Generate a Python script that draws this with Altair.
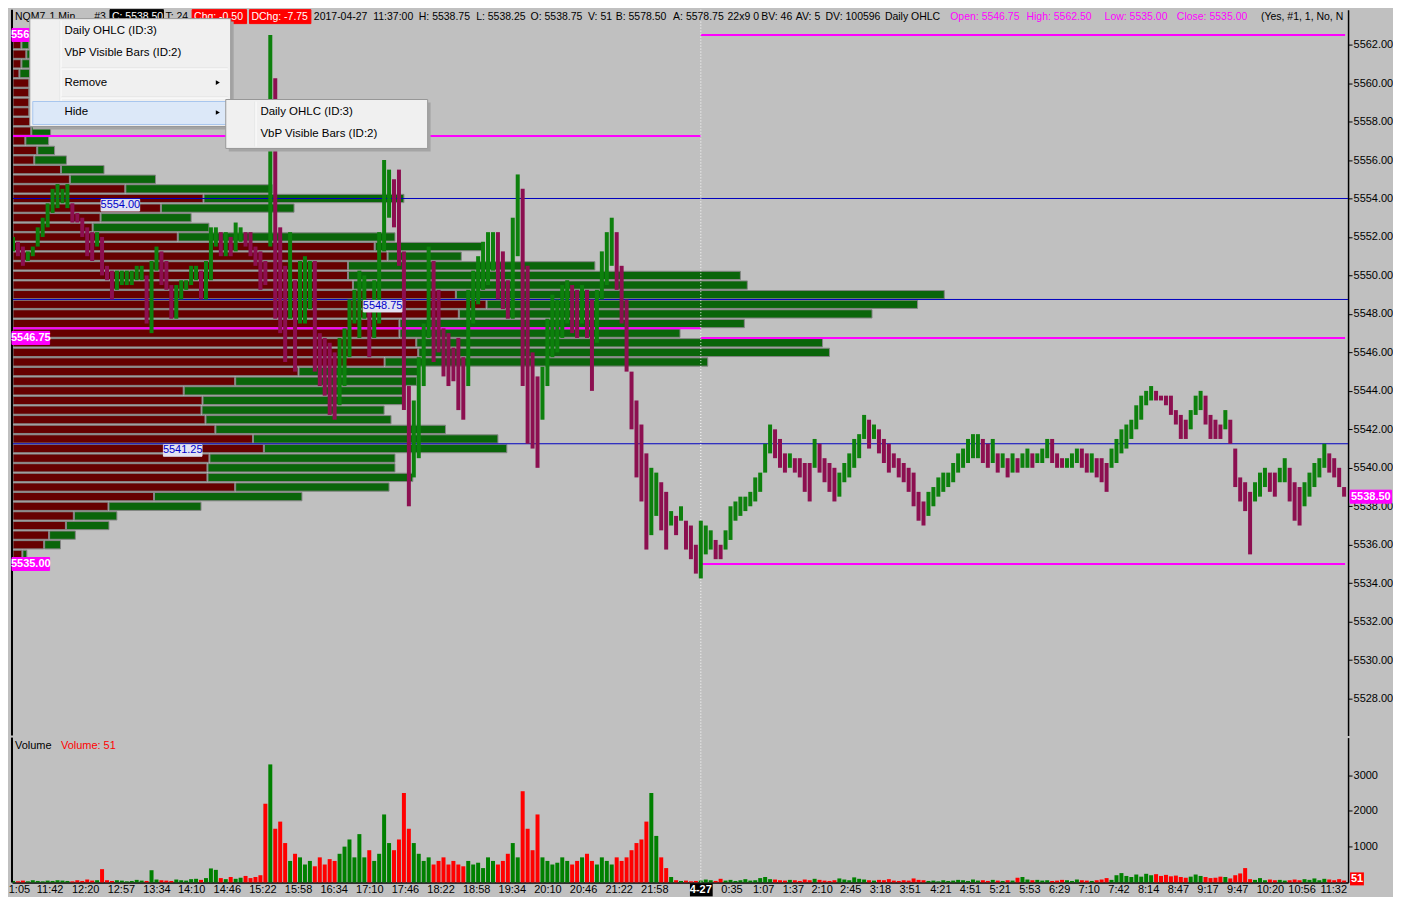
import altair as alt
import pandas as pd

# ------------------------------------------------------------------ data
# bar position on the time axis (one slot = 5 one-minute bars), 4-26 session then 4-27
BAR_X = list(range(5, 1351, 5))

HI = [
    5552.0, 5551.75, 5551.5, 5551.25, 5551.5, 5552.5, 5553.0, 5553.75, 5554.5, 5554.75,
    5554.5, 5554.75, 5553.75, 5553.25, 5553.0, 5552.5, 5552.25, 5552.25, 5552.0, 5550.5,
    5550.25, 5550.25, 5550.25, 5550.25, 5550.25, 5550.5, 5550.5, 5550.0, 5550.75, 5551.5,
    5551.25, 5550.75, 5549.5, 5549.5, 5549.75, 5549.75, 5550.5, 5550.5, 5550.25, 5550.75,
    5552.5, 5552.5, 5552.25, 5552.25, 5552.0, 5552.75, 5552.5, 5552.25, 5552.25, 5551.5,
    5551.25, 5550.75, 5562.5, 5560.25, 5552.5, 5550.5, 5552.25, 5549.75, 5550.75, 5551.0,
    5550.75, 5550.75, 5547.0, 5546.75, 5546.5, 5546.0, 5546.75, 5547.25, 5548.75, 5549.25,
    5550.25, 5550.0, 5548.75, 5549.75, 5552.25, 5556.0, 5555.5, 5555.0, 5555.5, 5551.25,
    5544.25, 5543.5, 5545.75, 5547.5, 5551.5, 5550.75, 5549.25, 5547.25, 5547.0, 5546.25,
    5546.75, 5545.75, 5549.25, 5550.25, 5551.0, 5551.75, 5552.25, 5552.25, 5552.25, 5551.25,
    5549.75, 5553.0, 5555.25, 5554.5, 5550.5, 5546.0, 5544.75, 5545.25, 5547.75, 5549.0,
    5548.75, 5549.5, 5549.75, 5549.5, 5549.25, 5549.5, 5549.25, 5548.75, 5549.25, 5551.25,
    5552.25, 5553.0, 5552.25, 5550.5, 5548.75, 5545.0, 5543.5, 5542.25, 5540.75, 5540.0,
    5539.75, 5539.25, 5538.75, 5537.75, 5537.5, 5538.0, 5537.25, 5537.0, 5536.0, 5537.25,
    5537.0, 5536.75, 5536.25, 5536.0, 5536.75, 5538.0, 5538.25, 5538.5, 5538.5, 5538.75,
    5539.5, 5539.75, 5541.25, 5542.25, 5542.0, 5541.5, 5540.75, 5540.75, 5540.5, 5540.5,
    5540.25, 5540.25, 5541.5, 5541.25, 5540.5, 5540.25, 5540.0, 5539.75, 5540.25, 5540.75,
    5541.5, 5541.75, 5542.75, 5542.5, 5542.25, 5542.0, 5541.5, 5541.25, 5540.75, 5540.5,
    5540.25, 5540.0, 5539.75, 5538.75, 5538.25, 5538.75, 5539.0, 5539.5, 5539.75, 5539.75,
    5540.25, 5540.75, 5541.0, 5541.5, 5541.75, 5541.75, 5541.5, 5541.25, 5541.5, 5540.75,
    5540.75, 5540.5, 5540.75, 5540.5, 5540.75, 5541.0, 5540.75, 5540.75, 5541.0, 5541.5,
    5541.5, 5540.75, 5540.5, 5540.5, 5540.75, 5541.0, 5541.0, 5540.75, 5540.75, 5540.5,
    5540.5, 5540.25, 5541.0, 5541.5, 5542.0, 5542.25, 5542.5, 5543.25, 5543.75, 5544.0,
    5544.25, 5544.0, 5543.75, 5543.75, 5543.75, 5543.0, 5542.75, 5542.5, 5543.0, 5543.75,
    5544.0, 5543.75, 5542.75, 5542.5, 5542.25, 5543.0, 5542.5, 5541.0, 5539.5, 5539.25,
    5538.75, 5539.25, 5539.75, 5540.0, 5539.75, 5539.75, 5540.0, 5540.5, 5540.0, 5539.25,
    5539.0, 5539.25, 5539.75, 5540.25, 5540.5, 5541.25, 5540.75, 5540.5, 5540.0, 5539.0,
]
LO = [
    5551.25, 5551.0, 5550.5, 5550.75, 5551.0, 5551.5, 5552.0, 5552.5, 5553.25, 5553.5,
    5553.75, 5553.5, 5552.75, 5552.75, 5552.0, 5551.0, 5550.75, 5551.5, 5550.0, 5549.75,
    5548.75, 5549.25, 5549.5, 5549.5, 5549.5, 5549.75, 5549.75, 5547.5, 5547.0, 5550.25,
    5549.5, 5549.25, 5547.75, 5547.75, 5548.75, 5549.25, 5549.5, 5549.75, 5548.75, 5548.75,
    5549.75, 5551.5, 5551.0, 5551.0, 5551.0, 5551.25, 5551.75, 5551.5, 5551.0, 5550.5,
    5549.25, 5549.5, 5551.5, 5547.75, 5547.0, 5545.5, 5547.75, 5545.0, 5547.5, 5547.5,
    5548.25, 5545.0, 5544.25, 5543.75, 5542.75, 5542.5, 5543.25, 5544.25, 5545.75, 5547.5,
    5546.75, 5547.75, 5545.75, 5546.75, 5547.5, 5551.25, 5553.0, 5552.5, 5550.5, 5543.0,
    5538.0, 5539.5, 5540.5, 5544.25, 5546.75, 5545.5, 5546.0, 5544.75, 5544.25, 5544.5,
    5543.0, 5542.5, 5544.25, 5547.5, 5548.5, 5549.25, 5549.5, 5550.25, 5548.75, 5548.25,
    5547.75, 5547.75, 5551.0, 5544.25, 5541.25, 5541.0, 5540.0, 5542.5, 5544.25, 5545.75,
    5546.0, 5546.75, 5547.5, 5547.0, 5546.75, 5547.5, 5546.75, 5544.0, 5546.5, 5548.75,
    5549.5, 5550.5, 5549.25, 5547.5, 5545.0, 5542.0, 5539.5, 5538.25, 5535.75, 5536.5,
    5537.5, 5536.75, 5535.75, 5537.0, 5536.5, 5537.25, 5535.75, 5535.25, 5534.5, 5534.25,
    5535.5, 5535.75, 5535.25, 5535.25, 5535.75, 5536.25, 5537.25, 5537.5, 5537.75, 5538.0,
    5538.25, 5538.75, 5539.75, 5540.75, 5540.5, 5540.0, 5539.75, 5540.0, 5539.75, 5539.5,
    5538.75, 5538.25, 5540.0, 5539.75, 5539.25, 5538.75, 5538.25, 5538.5, 5539.25, 5539.5,
    5540.0, 5540.5, 5541.5, 5541.0, 5541.5, 5540.75, 5540.25, 5539.75, 5540.0, 5539.5,
    5539.25, 5538.75, 5538.0, 5537.25, 5537.0, 5537.5, 5538.0, 5538.5, 5538.75, 5539.0,
    5539.25, 5539.75, 5540.0, 5540.25, 5540.5, 5540.5, 5540.25, 5540.0, 5540.25, 5539.75,
    5540.0, 5539.5, 5539.75, 5539.75, 5540.0, 5540.0, 5540.0, 5540.25, 5540.25, 5540.5,
    5540.25, 5540.0, 5540.0, 5540.0, 5540.0, 5540.25, 5540.0, 5539.75, 5539.75, 5539.5,
    5539.25, 5538.75, 5540.0, 5540.25, 5540.75, 5541.0, 5541.5, 5542.0, 5542.5, 5543.25,
    5543.5, 5543.5, 5543.5, 5543.25, 5542.75, 5542.25, 5541.5, 5541.5, 5542.0, 5542.75,
    5543.0, 5542.25, 5541.5, 5541.5, 5541.5, 5542.0, 5541.25, 5539.0, 5538.25, 5537.75,
    5535.5, 5538.25, 5538.5, 5539.0, 5538.75, 5538.5, 5539.25, 5539.25, 5538.25, 5537.25,
    5537.0, 5538.0, 5538.5, 5539.0, 5539.5, 5540.0, 5539.75, 5539.5, 5539.0, 5538.5,
]
VOL = [
    40, 30, 50, 30, 60, 40, 30, 50, 40, 60,
    50, 40, 30, 60, 40, 80, 50, 60, 370, 60,
    40, 60, 50, 30, 40, 70, 50, 40, 340, 80,
    60, 50, 40, 80, 60, 50, 90, 100, 70, 120,
    390, 350, 120, 90, 150, 100, 130, 180, 120, 150,
    200, 2200, 3300, 1500, 1700, 1100, 600, 800, 700, 500,
    600, 450, 700, 500, 650, 600, 800, 1000, 1200, 700,
    1350, 700, 900, 600, 800, 1900, 1100, 900, 1200, 2500,
    1500, 1100, 800, 600, 700, 500, 600, 700, 500, 600,
    500, 450, 600, 500, 550, 400, 700, 600, 500, 600,
    800, 1100, 700, 2550, 1500, 900, 1900, 700, 600, 500,
    550, 700, 600, 500, 600, 700, 800, 600, 500, 700,
    600, 500, 700, 600, 700, 900, 1100, 1200, 1700, 2500,
    1300, 700, 400, 150, 60, 40, 50, 30, 40, 50,
    80, 60, 40, 100, 50, 70, 40, 60, 90, 50,
    60, 120, 150, 90, 80, 60, 50, 70, 60, 40,
    80, 60, 100, 70, 50, 40, 60, 110, 80, 60,
    140, 100, 80, 60, 50, 70, 60, 90, 50, 40,
    60, 50, 110, 70, 60, 40, 50, 30, 60, 40,
    50, 70, 60, 40, 80, 50, 60, 40, 70, 50,
    40, 60, 50, 130, 150, 80, 60, 70, 50, 60,
    40, 50, 70, 60, 40, 80, 60, 50, 40, 60,
    80, 120, 70, 200, 260, 180, 150, 220, 160, 240,
    200, 230, 180, 210, 170, 190, 150, 130, 160, 220,
    180, 150, 120, 130, 160, 150, 110, 200, 250, 400,
    90, 70, 120, 60, 80, 60, 70, 50, 60, 80,
    60, 90, 70, 110, 60, 100, 80, 60, 90, 51,
]

# volume-by-price profile (rows of 0.5 pt): down volume end, total end (in bar-position units)
PROF_PRICE = [
    5562.5, 5562.0, 5561.5, 5561.0, 5560.5, 5560.0, 5559.5, 5559.0, 5558.5, 5558.0,
    5557.5, 5557.0, 5556.5, 5556.0, 5555.5, 5555.0, 5554.5, 5554.0, 5553.5, 5553.0,
    5552.5, 5552.0, 5551.5, 5551.0, 5550.5, 5550.0, 5549.5, 5549.0, 5548.5, 5548.0,
    5547.5, 5547.0, 5546.5, 5546.0, 5545.5, 5545.0, 5544.5, 5544.0, 5543.5, 5543.0,
    5542.5, 5542.0, 5541.5, 5541.0, 5540.5, 5540.0, 5539.5, 5539.0, 5538.5, 5538.0,
    5537.5, 5537.0, 5536.5, 5536.0, 5535.5,
]
PROF_RED_END = [
    10, 13, 18, 13, 11, 21, 21, 21, 21, 23,
    23, 17, 29, 26, 53, 62, 118, 197, 154, 93,
    85, 171, 370, 383, 343, 343, 348, 452, 483, 455,
    395, 395, 412, 414, 380, 293, 229, 177, 196, 195,
    199, 209, 247, 258, 203, 201, 201, 229, 147, 101,
    66, 58, 41, 36, 14,
]
PROF_GREEN_END = [
    14, 21, 24, 22, 22, 30, 32, 34, 40, 79,
    43, 41, 47, 59, 97, 149, 267, 400, 289, 185,
    203, 391, 481, 458, 593, 740, 747, 946, 919, 873,
    744, 679, 823, 830, 707, 414, 413, 400, 400, 380,
    387, 442, 495, 504, 391, 391, 409, 385, 297, 195,
    110, 102, 68, 53, 19,
]

DAILY_PREV = [5557.25, 5547.25]           # drawn over the 4-26 session
DAILY_CUR = [5562.50, 5546.75, 5535.00]   # drawn over the 4-27 session
VBP_LINES = [5554.00, 5548.75, 5541.25]
VBP_LABEL_X = [94, 359, 157]
LAST_PRICE = 5538.50
LAST_VOLUME = 51

PRICE_TICKS = [5528, 5530, 5532, 5534, 5536, 5538, 5540, 5542, 5544,
               5546, 5548, 5550, 5552, 5554, 5556, 5558, 5560, 5562]
VOL_TICKS = [1000, 2000, 3000]
TIME_POS = [11, 42, 78, 114, 150, 185, 221, 257, 293, 329, 365, 401, 437, 473,
            509, 545, 581, 617, 653, 731, 763, 793, 822, 851, 881, 911, 942,
            972, 1002, 1032, 1062, 1092, 1122, 1152, 1182, 1212, 1242, 1275, 1307, 1339]
TIME_LAB = ["1:05", "11:42", "12:20", "12:57", "13:34", "14:10", "14:46", "15:22",
            "15:58", "16:34", "17:10", "17:46", "18:22", "18:58", "19:34", "20:10",
            "20:46", "21:22", "21:58", "0:35", "1:07", "1:37", "2:10", "2:45", "3:18",
            "3:51", "4:21", "4:51", "5:21", "5:53", "6:29", "7:10", "7:42", "8:14",
            "8:47", "9:17", "9:47", "10:20", "10:56", "11:32"]
DAY_POS = 700
DAY_LABEL = "4-27"

assert len(HI) == len(LO) == len(VOL) == len(BAR_X)
assert len(PROF_PRICE) == len(PROF_RED_END) == len(PROF_GREEN_END)

# ------------------------------------------------------------------ layout / style
W, HP, HV = 1338, 727, 145
FONT = "Liberation Sans"
BG = "#c0c0c0"
UP, DN = "#0d800d", "#8c0f50"
VUP, VDN = "#008000", "#ff0000"
MAG = "#ff00ff"
PX_PER_PT = 19.265


def P(ry):
    """vertical position on the screen -> price units (for overlays)"""
    return 5562.0 - (ry - 43.0) / PX_PER_PT


XS = alt.Scale(domain=[4, 1354], nice=False, zero=False)
YS = alt.Scale(domain=[P(735), P(8)], nice=False, zero=False)
VS = alt.Scale(domain=[0, 4050], nice=False, zero=False)

YAX = alt.Axis(orient="right", values=PRICE_TICKS, format=".2f", title=None, grid=False,
               tickSize=4, tickColor="black", domainColor="black", domainWidth=1.5,
               labelColor="black", labelFontSize=11, labelPadding=1, labelFont=FONT)
VAX = alt.Axis(orient="right", values=VOL_TICKS, format="d", title=None, grid=False,
               tickSize=4, tickColor="black", domainColor="black", domainWidth=1.5,
               labelColor="black", labelFontSize=11, labelPadding=1, labelFont=FONT)
lab_arr = "[" + ",".join("'" + s + "'" for s in TIME_LAB) + "]"
pos_arr = "[" + ",".join(str(p) for p in TIME_POS) + "]"
XAX = alt.Axis(orient="bottom", values=TIME_POS, title=None, grid=False, ticks=False,
               labelExpr=f"{lab_arr}[indexof({pos_arr}, datum.value)]",
               domainColor="black", domainWidth=1.5, labelColor="black", labelFontSize=11,
               labelPadding=1, labelOverlap=False, labelFlush=False, labelFont=FONT)


def PXe(f):
    return alt.X(f, type="quantitative", scale=XS, axis=None)


def PYe(f):
    return alt.Y(f, type="quantitative", scale=YS, axis=YAX)


def VXe(f):
    return alt.X(f, type="quantitative", scale=XS, axis=XAX)


def VYe(f):
    return alt.Y(f, type="quantitative", scale=VS, axis=VAX)


# ------------------------------------------------------------------ tables
bars = pd.DataFrame({"bar": BAR_X, "hi": HI, "lo": LO, "vol": VOL})
mid = (bars["hi"] + bars["lo"]) / 2
up = [i == 0 or mid[i] >= mid[i - 1] for i in range(len(bars))]
bars["pcol"] = [UP if u else DN for u in up]
bars["vcol"] = [VUP if u else VDN for u in up]
bars["zero"] = 0

prof = pd.DataFrame({"price": PROF_PRICE, "red": PROF_RED_END, "green": PROF_GREEN_END})
prof["x0"] = 5
prof["g0"] = prof["red"] + 1
prof["top"] = prof["price"] + 0.215
prof["bot"] = prof["price"] - 0.215

daily = pd.DataFrame({
    "x": [4] * len(DAILY_PREV) + [DAY_POS] * len(DAILY_CUR),
    "x2": [DAY_POS] * len(DAILY_PREV) + [1351] * len(DAILY_CUR),
    "y": DAILY_PREV + DAILY_CUR,
})
vbp = pd.DataFrame({"x": 4, "x2": 1354, "y": VBP_LINES})

half = 6.5 / PX_PER_PT
lab_rects, lab_txt, lab_bold = [], [], []
for p, lx in zip(VBP_LINES, VBP_LABEL_X):
    lab_rects.append(dict(x=lx, x2=lx + 39, y=p - 0.05, y2=p - 12.5 / PX_PER_PT,
                          fill="#e2e2f2", stroke="#e2e2f2"))
    lab_txt.append(dict(x=lx + 19.5, y=p - 6.5 / PX_PER_PT, text=f"{p:.2f}", color="#0000c8"))
for p in DAILY_CUR:
    lab_rects.append(dict(x=4, x2=42, y=p + half, y2=p - half, fill=MAG, stroke=MAG))
    lab_bold.append(dict(x=23, y=p, text=f"{p:.2f}", color="white"))
lab_rects.append(dict(x=1356, x2=1398, y=LAST_PRICE + half, y2=LAST_PRICE - half,
                      fill=MAG, stroke=MAG))
lab_bold.append(dict(x=1377, y=LAST_PRICE, text=f"{LAST_PRICE:.2f}", color="white"))

# header line (screen x positions, shifted a little down to stay inside the page)
DY = 5
hdr_rects = pd.DataFrame([
    dict(x=103, x2=157, y=P(3 + DY), y2=P(17 + DY), fill="#000000", stroke="#000000"),
    dict(x=186, x2=241, y=P(3 + DY), y2=P(17 + DY), fill="#ff0000", stroke="#ff0000"),
    dict(x=244, x2=306, y=P(3 + DY), y2=P(17 + DY), fill="#ff0000", stroke="#ff0000"),
])
hy = P(10 + DY)
hdr_items = [
    (7, "NQM7", "black"), (42, "1 Min", "black"), (87, "#3", "black"),
    (105, "C: 5538.50", "white"), (159, "T: 24", "black"),
    (188, "Chg: -0.50", "white"), (246, "DChg: -7.75", "white"),
    (309, "2017-04-27", "black"), (369, "11:37:00", "black"),
    (415, "H: 5538.75", "black"), (473, "L: 5538.25", "black"),
    (528, "O: 5538.75", "black"), (586, "V: 51", "black"),
    (614, "B: 5578.50", "black"), (672, "A: 5578.75", "black"),
    (727, "22x9 0", "black"), (761, "BV: 46", "black"), (796, "AV: 5", "black"),
    (826, "DV: 100596", "black"), (886, "Daily OHLC", "black"),
    (952, "Open: 5546.75", MAG), (1029, "High: 5562.50", MAG),
    (1108, "Low: 5535.00", MAG), (1181, "Close: 5535.00", MAG),
    (1266, "(Yes, #1, 1, No, N", "black"),
]
hdr_txt = pd.DataFrame([dict(x=x, y=hy, text=t, color=c) for x, t, c in hdr_items])

# context menu overlay (screen coordinates)
menu_boxes = [
    (25, 228, 15, 123, "#a4a4a4", "transparent"),
    (22, 225, 12, 120, "#f0f0f0", "#979797"),
    (52, 53, 14, 118, "#e2e3e3", "transparent"),
    (53, 54, 14, 118, "#ffffff", "transparent"),
    (54, 222, 61, 62, "#e0e0e0", "transparent"),
    (54, 222, 62, 63, "#ffffff", "transparent"),
    (54, 222, 90, 91, "#e0e0e0", "transparent"),
    (54, 222, 91, 92, "#ffffff", "transparent"),
    (25, 221, 95, 118, "#dce8f8", "#a8c6ee"),
    (223, 427, 96, 145, "#a4a4a4", "transparent"),
    (220, 424, 93, 142, "#f0f0f0", "#979797"),
    (249, 250, 95, 140, "#e2e3e3", "transparent"),
    (250, 251, 95, 140, "#ffffff", "transparent"),
]
menu_rects = pd.DataFrame([dict(x=a, x2=b, y=P(c + DY), y2=P(d + DY), fill=f, stroke=s)
                           for a, b, c, d, f, s in menu_boxes])
menu_items = [(57, 24, "Daily OHLC (ID:3)"), (57, 46, "VbP Visible Bars (ID:2)"),
              (57, 76, "Remove"), (57, 106, "Hide"),
              (255, 106, "Daily OHLC (ID:3)"), (255, 128, "VbP Visible Bars (ID:2)")]
menu_txt = pd.DataFrame([dict(x=x, y=P(y + DY), text=t) for x, y, t in menu_items])
menu_arrows = pd.DataFrame([dict(x=212, y=P(76 + DY)), dict(x=212, y=P(106 + DY))])


def rect_layer(df):
    return alt.Chart(pd.DataFrame(df)).mark_rect(strokeWidth=1).encode(
        x=PXe("x"), x2="x2:Q", y=PYe("y"), y2="y2:Q",
        fill=alt.Fill("fill:N", scale=None), stroke=alt.Stroke("stroke:N", scale=None))


def text_layer(df, **kw):
    return alt.Chart(pd.DataFrame(df)).mark_text(font=FONT, baseline="middle", **kw).encode(
        x=PXe("x"), y=PYe("y"), text="text:N", color=alt.Color("color:N", scale=None))


# ------------------------------------------------------------------ price panel
prof_red = alt.Chart(prof).mark_rect(fill="#660000", stroke="#858585", strokeWidth=1).encode(
    x=PXe("x0"), x2="red:Q", y=PYe("top"), y2="bot:Q")
prof_green = alt.Chart(prof).mark_rect(fill="#0a650a", stroke="#858585", strokeWidth=1).encode(
    x=PXe("g0"), x2="green:Q", y=PYe("top"), y2="bot:Q")
daily_lines = alt.Chart(daily).mark_rule(color=MAG, strokeWidth=2).encode(
    x=PXe("x"), x2="x2:Q", y=PYe("y"))
vbp_lines = alt.Chart(vbp).mark_rule(color="#0000c0", strokeWidth=1).encode(
    x=PXe("x"), x2="x2:Q", y=PYe("y"))
sep_p = alt.Chart(pd.DataFrame({"x": [DAY_POS]})).mark_rule(
    color="white", strokeDash=[1, 2], strokeWidth=1).encode(x=PXe("x"))
border_p = alt.Chart(pd.DataFrame({"x": [4]})).mark_rule(color="black", strokeWidth=2).encode(x=PXe("x"))
candles = alt.Chart(bars).mark_rule(strokeWidth=4).encode(
    x=PXe("bar"), y=PYe("lo"), y2="hi:Q", color=alt.Color("pcol:N", scale=None))

price = alt.layer(
    prof_red, prof_green, daily_lines, vbp_lines, sep_p, candles, border_p,
    rect_layer(lab_rects),
    text_layer(lab_txt, fontSize=11, align="center"),
    text_layer(lab_bold, fontSize=11, fontWeight="bold", align="center"),
    rect_layer(hdr_rects),
    text_layer(hdr_txt, fontSize=10.5, align="left", clip=True),
    rect_layer(menu_rects),
    alt.Chart(menu_txt).mark_text(font=FONT, fontSize=11.5, align="left", baseline="middle",
                                  color="black").encode(x=PXe("x"), y=PYe("y"), text="text:N"),
    alt.Chart(menu_arrows).mark_point(shape="triangle-right", filled=True, size=22,
                                      color="black", opacity=1).encode(x=PXe("x"), y=PYe("y")),
).properties(width=W, height=HP)

# ------------------------------------------------------------------ volume panel
vol_bars = alt.Chart(bars).mark_rule(strokeWidth=4).encode(
    x=VXe("bar"), y=VYe("vol"), y2="zero:Q", color=alt.Color("vcol:N", scale=None))
sep_v = alt.Chart(pd.DataFrame({"x": [DAY_POS]})).mark_rule(
    color="white", strokeDash=[1, 2], strokeWidth=1).encode(x=VXe("x"))
border_v = alt.Chart(pd.DataFrame({"x": [4]})).mark_rule(color="black", strokeWidth=2).encode(x=VXe("x"))
one = pd.DataFrame({"a": [0]})
vol_title = alt.Chart(one).mark_text(text="Volume", font=FONT, fontSize=11, align="left",
                                     baseline="middle", color="black").encode(
    x=alt.value(3), y=alt.value(8))
vol_value = alt.Chart(one).mark_text(text=f"Volume: {LAST_VOLUME}", font=FONT, fontSize=11,
                                     align="left", baseline="middle", color="#ff0000").encode(
    x=alt.value(49), y=alt.value(8))
last_vol = pd.DataFrame({"x": [1356], "x2": [1370], "xm": [1363], "t": [str(LAST_VOLUME)]})
last_vol_box = alt.Chart(last_vol).mark_rect(color="#ff0000").encode(
    x=VXe("x"), x2="x2:Q", y=alt.value(HV - 10), y2=alt.value(HV + 3))
last_vol_txt = alt.Chart(last_vol).mark_text(font=FONT, fontSize=11, fontWeight="bold",
                                             color="white", baseline="middle").encode(
    x=VXe("xm"), y=alt.value(HV - 3.5), text="t:N")
day = pd.DataFrame({"x": [DAY_POS - 11], "x2": [DAY_POS + 12], "xm": [DAY_POS], "t": [DAY_LABEL]})
day_box = alt.Chart(day).mark_rect(color="black").encode(
    x=VXe("x"), x2="x2:Q", y=alt.value(HV + 1), y2=alt.value(HV + 14))
day_txt = alt.Chart(day).mark_text(font=FONT, fontSize=11, fontWeight="bold", color="white",
                                   baseline="middle").encode(
    x=VXe("xm"), y=alt.value(HV + 7.5), text="t:N")

vol = alt.layer(
    vol_bars, sep_v, border_v, vol_title, vol_value, last_vol_box, last_vol_txt, day_box, day_txt
).properties(width=W, height=HV)

chart = alt.vconcat(price, vol, spacing=0).properties(
    background=BG, padding=0
).configure_view(stroke=None).configure_axis(labelFont=FONT)

chart.save("out.html", embed_options={"renderer": "svg", "actions": False})
